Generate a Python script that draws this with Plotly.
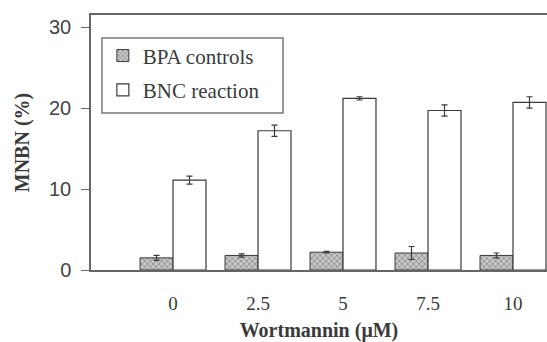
import plotly.graph_objects as go

# Wortmannin dose groups (µM)
doses = ["0", "2.5", "5", "7.5", "10"]

# MNBN frequencies (%) and their error estimates
bpa_controls = [1.5, 1.8, 2.2, 2.1, 1.8]
bpa_err = [0.3, 0.2, 0.1, 0.8, 0.3]
bnc_reaction = [11.1, 17.2, 21.2, 19.7, 20.7]
bnc_err = [0.5, 0.7, 0.2, 0.7, 0.7]

ink = "#3a3a3a"
serif = "Liberation Serif, Times New Roman, serif"
sans = "Liberation Sans, Arial, sans-serif"

fig = go.Figure()
fig.add_trace(go.Bar(
    x=doses, y=bpa_controls, name="BPA controls", legendgroup="a",
    marker=dict(color="#b5b5b5", line=dict(color=ink, width=1),
                pattern=dict(shape="x", fgcolor="#555555", bgcolor="#c8c8c8",
                             size=4, solidity=0.4)),
    error_y=dict(type="data", array=bpa_err, color=ink, thickness=1.2, width=3),
))
fig.add_trace(go.Bar(
    x=doses, y=bnc_reaction, name="BNC reaction", legendgroup="b",
    marker=dict(color="white", line=dict(color=ink, width=1.2)),
    error_y=dict(type="data", array=bnc_err, color=ink, thickness=1.2, width=3),
))

# frame around the legend, a little wider than plotly's own box
fig.add_shape(type="rect", xref="paper", yref="paper",
              x0=0.024, x1=0.421, y0=0.616, y1=0.91,
              line=dict(color="#777777", width=1.5), fillcolor="white",
              layer="above")

fig.update_layout(
    width=547, height=342,
    margin=dict(l=91, r=0, t=15, b=72),
    plot_bgcolor="white", paper_bgcolor="white",
    barmode="group", bargap=0.224, bargroupgap=0,
    showlegend=True,
    legend=dict(x=0.026, y=0.92, xanchor="left", yanchor="top",
                borderwidth=0, bgcolor="rgba(0,0,0,0)",
                font=dict(family=serif, size=21, color=ink),
                traceorder="grouped", tracegroupgap=4),
    xaxis=dict(range=[-0.965, 4.4], showline=True, linecolor="#666666",
               linewidth=1.5, mirror=True, ticks="outside", ticklen=15,
               tickcolor="rgba(0,0,0,0)", showgrid=False, automargin=False,
               tickfont=dict(family=serif, size=19, color=ink),
               title=dict(text="<b>Wortmannin (μM)</b>", standoff=15,
                          font=dict(family=serif, size=20, color=ink))),
    yaxis=dict(range=[0, 31.5], tickvals=[0, 10, 20, 30], showline=True,
               linecolor="#666666", linewidth=1.5, ticks="outside",
               ticklen=8, tickcolor="#666666", showgrid=False, zeroline=False,
               automargin=False, ticklabelstandoff=6,
               tickfont=dict(family=sans, size=20, color="#444444"),
               title=dict(text="<b>MNBN (%)</b>", standoff=14,
                          font=dict(family=serif, size=20, color=ink))),
)

fig.write_html("out.html")
